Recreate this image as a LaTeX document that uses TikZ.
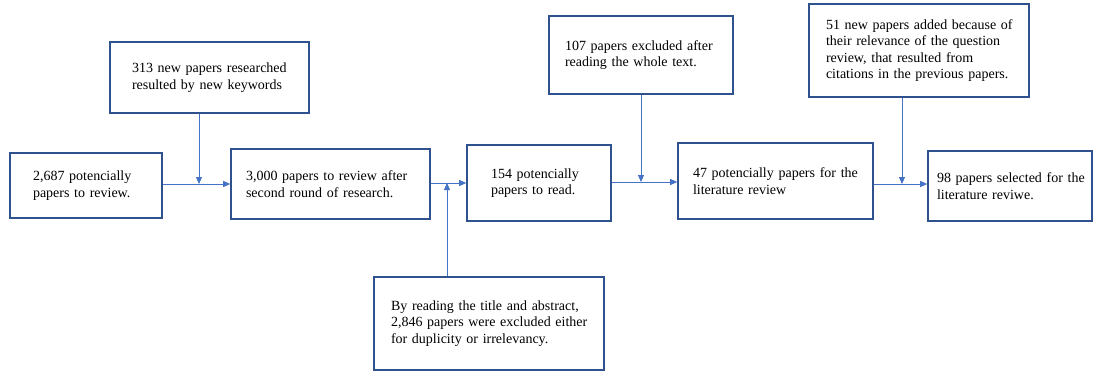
\documentclass[tikz,border=0pt]{standalone}
\usepackage{fontspec}
\setmainfont{Liberation Serif}
\usetikzlibrary{arrows.meta}
\definecolor{boxblue}{HTML}{2F528F}
\definecolor{lineblue}{HTML}{4472C4}
\newcommand{\boxline}[1]{\mbox{#1}}
\begin{document}
\begin{tikzpicture}[x=1pt,y=-1pt,
  paperbox/.style={draw=boxblue, line width=1.6pt, fill=white, align=left,
    inner ysep=0pt, font=\fontsize{14}{16.6}\selectfont},
  flow/.style={draw=lineblue, line width=0.9pt, -{Triangle[length=7pt,width=6pt]}}]
  \useasboundingbox (0,0) rectangle (1094,372);

  %Main row
  \node[paperbox, minimum width=152pt, minimum height=65pt, text width=106pt, inner xsep=23pt] (found) at (86,185.5)
    {\boxline{2,687 potencially}\\\boxline{papers to review.}};
  \node[paperbox, minimum width=199pt, minimum height=70pt, text width=169pt, inner xsep=15pt] (second) at (330.5,184)
    {\boxline{3,000 papers to review after}\\\boxline{second round of research.}};
  \node[paperbox, minimum width=144pt, minimum height=76pt, text width=96pt, inner xsep=24pt] (read) at (539,183)
    {\boxline{154 potencially}\\\boxline{papers to read.}};
  \node[paperbox, minimum width=195pt, minimum height=76pt, text width=165pt, inner xsep=15pt] (potential) at (775.5,181)
    {\boxline{47 potencially papers for the}\\\boxline{literature review}};
  \node[paperbox, minimum width=164pt, minimum height=70pt, text width=146pt, inner xsep=9pt] (selected) at (1010,186)
    {\boxline{98 papers selected for the}\\\boxline{literature reviwe.}};

  %Side boxes
  \node[paperbox, minimum width=199pt, minimum height=71pt, text width=155pt, inner xsep=22pt] (keywords) at (209.5,77.5)
    {\boxline{313 new papers researched}\\\boxline{resulted by new keywords}};
  \node[paperbox, minimum width=230pt, minimum height=93pt, text width=196pt, inner xsep=17pt] (abstract) at (489,323.5)
    {\boxline{By reading the title and abstract,}\\\boxline{2,846 papers were excluded either}\\\boxline{for duplicity or irrelevancy.}};
  \node[paperbox, minimum width=184pt, minimum height=78pt, text width=152pt, inner xsep=16pt] (wholetext) at (641,55)
    {\boxline{107 papers excluded after}\\\boxline{reading the whole text.}\\[6pt]};
  \node[paperbox, minimum width=220pt, minimum height=93pt, text width=186pt, inner xsep=17pt] (citations) at (919,50.5)
    {\boxline{51 new papers added because of}\\\boxline{their relevance of the question}\\\boxline{review, that resulted from}\\\boxline{citations in the previous papers.}};

  %Where the side arrows meet the row
  \coordinate (j1) at (199,184);
  \coordinate (j2) at (447,183);
  \coordinate (j3) at (641,182);
  \coordinate (j4) at (902,184);

  %Row arrows
  \draw[flow] (found.east |- j1) -- (second.west |- j1);
  \draw[flow] (second.east |- j2) -- (read.west |- j2);
  \draw[flow] (read.east |- j3) -- (potential.west |- j3);
  \draw[flow] (potential.east |- j4) -- (selected.west |- j4);

  %Side arrows
  \draw[flow] (j1 |- keywords.south) -- (j1);
  \draw[flow] (j2 |- abstract.north) -- (j2);
  \draw[flow] (wholetext.south) -- (j3);
  \draw[flow] (j4 |- citations.south) -- (j4);
\end{tikzpicture}
\end{document}
